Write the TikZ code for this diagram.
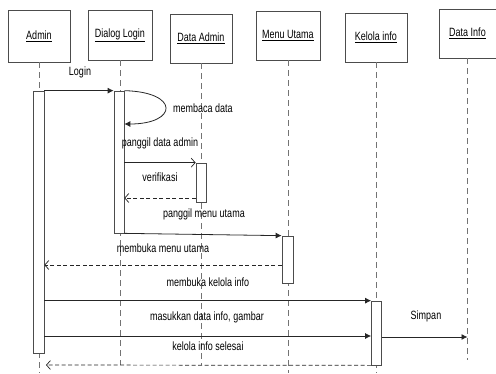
\documentclass[tikz,border=0pt]{standalone}
\usepackage{fontspec}
\setmainfont{Liberation Sans}[FakeStretch=0.75]
\usetikzlibrary{arrows.meta,calc}
\begin{document}
\begin{tikzpicture}[x=1pt,y=-1pt,
  every node/.style={font=\fontsize{12}{14}\selectfont, text=black},
  obj/.style={draw=black!70, line width=0.8pt, fill=white, inner sep=0pt},
  life/.style={draw=black!55, line width=0.7pt, dash pattern=on 6pt off 4pt},
  actbox/.style={draw=black!70, line width=0.7pt, fill=white, inner sep=0pt},
  msg/.style={draw=black!85, line width=0.8pt, -{Latex[length=6pt,width=6pt]}},
  call/.style={draw=black!85, line width=0.7pt, -{Straight Barb[length=4pt,width=9pt]}},
  ret/.style={draw=black!85, line width=0.7pt, dash pattern=on 4pt off 2.5pt, -{Straight Barb[length=4pt,width=9pt]}},
  lbl/.style={inner sep=0pt}]
\useasboundingbox (0,0) rectangle (496,373);

% objects
\node[obj, minimum width=62, minimum height=52] (oA) at (39,36) {\underline{Admin}};
\node[obj, minimum width=64, minimum height=50] (oD) at (120,35) {\underline{Dialog Login}};
\node[obj, minimum width=62, minimum height=49] (oDA) at (201,38.5) {\underline{Data Admin}};
\node[obj, minimum width=64, minimum height=49] (oM) at (288,35.5) {\underline{Menu Utama}};
\node[obj, minimum width=62, minimum height=49] (oK) at (376,37.5) {\underline{Kelola info}};
\node[obj, minimum width=57, minimum height=49] (oI) at (467.5,33.5) {\underline{Data Info}};

% lifeline ends
\coordinate (eA) at (39,373);
\coordinate (eD) at (120,365);
\coordinate (eDA) at (201,365);
\coordinate (eM) at (288,373);
\coordinate (eK) at (376,373);
\coordinate (eI) at (467.5,360);

\draw[life] (oA.south) -- (eA);
\draw[life] (oD.south) -- (eD);
\draw[life] (oDA.south) -- (eDA);
\draw[life] (oM.south) -- (eM);
\draw[life] (oK.south) -- (eK);
\draw[life] (oI.south) -- (eI);

% activations
\node[actbox, minimum width=11, minimum height=262] (aA) at (38.5,222) {};
\node[actbox, minimum width=10, minimum height=142] (aD) at (119,162) {};
\node[actbox, minimum width=10, minimum height=39] (aDA) at (201,182.5) {};
\node[actbox, minimum width=11, minimum height=47] (aM) at (287.5,259.5) {};
\node[actbox, minimum width=10, minimum height=64] (aK) at (376.5,333) {};

% levels
\coordinate (y124) at (0,124);
\coordinate (y198) at (0,198);
\coordinate (y265) at (0,265);
\coordinate (y336) at (0,336);
\coordinate (y337) at (0,337);
\coordinate (rEnd) at (46,365);

% messages
\draw[msg] (aA.north east) -- (aD.north west);
\node[lbl] (lLogin) at (80,72) {Login};

\draw[msg] (aD.north east) .. controls (180,92) and (178,124) .. (aD.east |- y124);
\node[lbl] (lBaca) at (203,108) {membaca data};

\draw[call] (aD.east |- aDA.north) -- (aDA.north west);
\node[lbl] (lPanggil) at (160,143) {panggil data admin};

\draw[ret] (aDA.west |- y198) -- (aD.east |- y198);
\node[lbl] (lVer) at (160,177) {verifikasi};

\draw[msg] (aD.south east) -- (aM.north west);
\node[lbl] (lMenu) at (204,214) {panggil menu utama};

\draw[ret] (aM.west |- y265) -- (aA.east |- y265);
\node[lbl] (lBukaMenu) at (163,248) {membuka menu utama};

\draw[msg] (aA.east |- aK.north) -- (aK.north west);
\node[lbl] (lBukaK) at (208,282) {membuka kelola info};

\draw[msg] (aA.east |- y336) -- (aK.west |- y336);
\node[lbl] (lMasuk) at (207,317) {masukkan data info, gambar};

\draw[msg] (aK.east |- y337) -- (oI.south |- y337);
\node[lbl] (lSimpan) at (426,316) {Simpan};

\draw[ret] (aK.south west) -- (rEnd);
\node[lbl] (lSelesai) at (208,346) {kelola info selesai};
\end{tikzpicture}
\end{document}
